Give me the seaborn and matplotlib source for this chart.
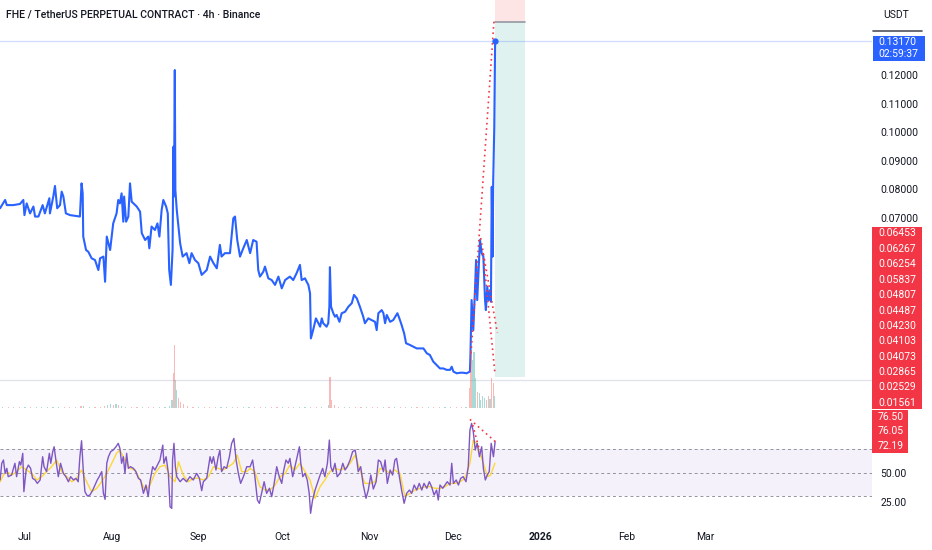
import matplotlib
matplotlib.use("Agg")
import matplotlib.pyplot as plt
from matplotlib.patches import Rectangle
import seaborn as sns
import pandas as pd

# ---------------- data ----------------
# x values are days since 2025-07-01
price_days = [-8.9, -7.1, -6.5, -4.2, -1.8, -0.6, -0.2, 0.6, 1.8, 3.0, 3.6, 4.8, 6.3, 7.1, 8.7, 8.9,
              10.1, 10.7, 11.5, 12.5, 13.1, 13.7, 14.6, 16.1, 19.6, 20.2, 20.6, 20.8, 21.8, 22.6, 23.8,
              25.0, 26.2, 26.8, 28.0, 28.6, 29.2, 30.4, 31.5, 32.7, 33.3, 33.9, 34.5, 35.1, 35.4, 36.1,
              36.9, 37.5, 38.1, 39.9, 41.1, 41.7, 42.9, 44.0, 44.4, 45.2, 46.4, 47.3, 48.0, 48.8, 49.4,
              50.4, 51.0, 51.5, 52.1, 52.7, 53.0, 53.2, 53.5, 53.7, 54.2, 55.4, 56.3, 57.7, 58.7, 59.5,
              60.7, 61.9, 63.1, 64.9, 66.1, 67.3, 68.5, 69.6, 70.2, 71.4, 73.2, 74.4, 75.0, 75.8, 76.8,
              77.7, 79.2, 80.4, 81.5, 82.7, 83.3, 83.9, 85.1, 85.7, 86.9, 88.1, 89.3, 90.5, 91.7, 92.9,
              94.6, 95.8, 97.0, 98.2, 98.8, 100.0, 100.6, 101.2, 101.8, 102.1, 102.9, 103.9, 104.8, 105.4,
              106.0, 106.5, 107.7, 108.3, 108.7, 108.9, 109.3, 110.1, 110.7, 111.3, 112.3, 113.1, 114.3,
              115.5, 116.7, 117.5, 118.5, 119.6, 120.8, 121.4, 122.6, 123.8, 125.0, 125.6, 126.2, 127.4,
              128.0, 128.6, 129.2, 130.4, 131.5, 133.0, 133.7, 134.5, 135.4, 136.1, 137.5, 138.7, 139.9,
              141.1, 142.3, 143.5, 144.6, 145.8, 147.0, 148.2, 149.4, 150.6, 151.8, 152.4, 153.0, 154.2,
              155.4, 156.5, 157.7, 158.9, 159.1, 159.5, 160.1, 160.7, 161.1, 161.5, 161.9, 162.5, 163.1,
              163.7, 164.3, 164.6, 165.1, 165.6, 166.1, 166.4, 166.7, 167.0, 167.2, 167.6, 167.9]
price_vals = [0.0734, 0.0763, 0.0745, 0.0745, 0.0749, 0.0763, 0.0710, 0.0751, 0.0716, 0.0740, 0.0705,
              0.0705, 0.0745, 0.0716, 0.0769, 0.0716, 0.0775, 0.0812, 0.0734, 0.0745, 0.0792, 0.0775,
              0.0716, 0.0710, 0.0705, 0.0821, 0.0786, 0.0635, 0.0588, 0.0582, 0.0559, 0.0553, 0.0518,
              0.0559, 0.0565, 0.0477, 0.0635, 0.0588, 0.0681, 0.0716, 0.0763, 0.0751, 0.0786, 0.0687,
              0.0775, 0.0687, 0.0705, 0.0821, 0.0757, 0.0740, 0.0722, 0.0647, 0.0623, 0.0635, 0.0594,
              0.0670, 0.0658, 0.0681, 0.0635, 0.0728, 0.0763, 0.0740, 0.0716, 0.0518, 0.0466, 0.0588,
              0.0949, 0.0775, 0.1217, 0.0798, 0.0728, 0.0612, 0.0565, 0.0577, 0.0542, 0.0577, 0.0553,
              0.0542, 0.0501, 0.0518, 0.0565, 0.0542, 0.0524, 0.0606, 0.0565, 0.0577, 0.0577, 0.0699,
              0.0705, 0.0623, 0.0565, 0.0588, 0.0623, 0.0577, 0.0623, 0.0617, 0.0518, 0.0495, 0.0512,
              0.0530, 0.0489, 0.0483, 0.0466, 0.0495, 0.0454, 0.0483, 0.0495, 0.0483, 0.0507, 0.0536,
              0.0483, 0.0489, 0.0477, 0.0466, 0.0437, 0.0279, 0.0308, 0.0349, 0.0332, 0.0320, 0.0349,
              0.0332, 0.0320, 0.0332, 0.0390, 0.0528, 0.0390, 0.0367, 0.0355, 0.0361, 0.0337, 0.0367,
              0.0372, 0.0390, 0.0402, 0.0431, 0.0419, 0.0390, 0.0355, 0.0332, 0.0349, 0.0343, 0.0337,
              0.0308, 0.0367, 0.0378, 0.0367, 0.0332, 0.0361, 0.0337, 0.0343, 0.0367, 0.0349, 0.0326,
              0.0297, 0.0262, 0.0256, 0.0250, 0.0244, 0.0244, 0.0244, 0.0227, 0.0221, 0.0198, 0.0186,
              0.0174, 0.0174, 0.0169, 0.0169, 0.0180, 0.0163, 0.0157, 0.0159, 0.0159, 0.0157, 0.0163,
              0.0227, 0.0413, 0.0308, 0.0448, 0.0553, 0.0413, 0.0495, 0.0623, 0.0577, 0.0565, 0.0413,
              0.0378, 0.0460, 0.0413, 0.0448, 0.0407, 0.0809, 0.0565, 0.0821, 0.1019, 0.1317]
current_price = 0.13170
countdown = "02:59:37"

rsi_days = [-8.9, -8.3, -7.7, -7.1, -6.5, -6.0, -4.8, -3.6, -3.0, -2.0, -1.5, -0.8, -0.4, 0.4, 1.2, 2.0,
            2.7, 3.6, 4.4, 5.4, 6.3, 6.8, 7.7, 8.7, 9.2, 9.9, 10.4, 11.1, 11.9, 12.7, 13.7, 14.6, 15.5,
            16.3, 17.3, 18.2, 19.0, 19.6, 20.2, 20.8, 21.4, 22.3, 23.2, 24.2, 25.0, 25.8, 26.5, 27.4,
            28.0, 28.6, 29.2, 29.8, 30.6, 31.5, 32.5, 33.3, 33.9, 34.5, 35.1, 35.7, 36.3, 36.9, 37.7,
            38.7, 39.6, 40.5, 41.3, 42.3, 43.2, 44.0, 44.6, 45.6, 46.4, 47.3, 48.2, 49.2, 49.6, 50.4,
            51.2, 51.8, 52.4, 52.7, 53.2, 53.7, 54.2, 55.4, 56.5, 57.7, 58.9, 60.1, 61.3, 62.3, 63.1,
            63.7, 64.9, 66.1, 66.7, 67.3, 68.2, 69.0, 69.6, 70.2, 71.1, 72.0, 73.0, 73.8, 74.6, 75.4,
            76.2, 77.0, 78.0, 79.2, 80.4, 81.3, 82.1, 83.0, 83.7, 84.5, 85.4, 86.3, 87.3, 88.1, 88.9,
            89.9, 90.8, 91.7, 92.3, 93.2, 94.0, 94.6, 95.6, 96.4, 97.3, 98.0, 98.5, 99.2, 100.0, 100.8,
            101.5, 102.0, 102.7, 103.6, 104.4, 105.4, 106.3, 107.1, 108.0, 108.7, 109.2, 109.9, 110.7,
            111.5, 112.5, 113.5, 114.3, 115.1, 116.1, 117.0, 117.9, 118.5, 119.0, 119.9, 120.8, 121.8,
            122.6, 123.5, 124.4, 125.4, 126.2, 127.0, 128.0, 128.6, 129.4, 130.4, 131.3, 132.1, 132.7,
            133.7, 134.5, 135.4, 136.3, 137.3, 138.1, 139.0, 139.9, 140.8, 141.7, 142.5, 143.5, 144.4,
            145.2, 146.1, 147.0, 147.6, 148.2, 149.2, 150.0, 150.8, 151.8, 152.4, 153.0, 154.0, 154.8,
            155.6, 156.5, 157.5, 158.3, 158.9, 159.5, 160.1, 160.8, 161.5, 162.3, 163.1, 163.7, 164.4,
            165.1, 165.8, 166.5, 167.3, 167.9]
rsi_vals = [43.8, 58.0, 60.8, 49.4, 53.7, 46.6, 48.0, 58.0, 46.6, 59.4, 56.5, 66.5, 33.8, 52.3, 56.5, 53.7,
            45.2, 43.8, 40.9, 43.8, 63.6, 55.1, 50.9, 66.5, 58.0, 67.9, 72.1, 59.4, 46.6, 58.0, 49.4, 46.6,
            42.3, 46.6, 43.8, 45.2, 42.3, 63.6, 77.2, 52.3, 33.8, 30.1, 31.0, 35.2, 39.5, 43.8, 46.6, 50.9,
            32.4, 27.3, 58.0, 63.6, 67.9, 69.3, 72.1, 75.0, 70.7, 58.0, 63.6, 49.4, 66.5, 53.7, 55.1, 53.7,
            50.9, 45.2, 43.8, 32.4, 39.5, 29.6, 42.3, 55.1, 52.3, 56.5, 60.8, 73.5, 58.0, 63.6, 49.4, 21.0,
            19.6, 60.8, 75.0, 55.1, 46.6, 42.3, 45.2, 42.3, 46.6, 43.8, 49.4, 45.2, 34.7, 42.3, 45.2, 63.6,
            58.0, 63.6, 52.3, 63.6, 69.3, 50.9, 55.1, 53.7, 63.6, 75.0, 79.2, 60.8, 49.4, 40.9, 46.6, 55.1,
            55.1, 60.8, 46.6, 26.7, 23.9, 32.4, 42.3, 32.4, 36.7, 29.6, 39.5, 55.1, 46.6, 40.9, 50.9, 60.8,
            58.0, 62.2, 46.6, 55.1, 65.0, 72.1, 58.0, 46.6, 49.4, 43.8, 32.4, 15.4, 26.7, 35.2, 40.9, 48.0,
            53.7, 46.6, 58.0, 77.8, 55.1, 50.9, 58.0, 46.6, 49.4, 58.0, 52.3, 55.1, 60.8, 67.9, 69.3, 60.8,
            50.9, 55.1, 39.5, 28.2, 35.2, 48.0, 36.1, 42.3, 60.8, 59.4, 50.9, 60.8, 40.9, 52.3, 48.0, 60.8,
            62.2, 46.6, 35.2, 23.9, 32.4, 35.2, 32.4, 39.5, 35.2, 40.9, 35.2, 40.9, 36.7, 42.3, 38.1, 31.0,
            35.2, 26.7, 39.5, 36.7, 39.5, 42.3, 39.5, 58.0, 40.9, 43.8, 39.5, 45.2, 46.6, 42.3, 55.1, 86.3,
            92.0, 84.9, 69.3, 75.0, 63.6, 72.1, 53.7, 43.8, 48.0, 50.9, 75.0, 63.6, 76.4]

rsi_ma_days = [-8.9, -7.7, -6.5, -4.8, -3.0, -1.2, 0.6, 2.4, 4.2, 6.0, 7.7, 9.5, 11.3, 13.1, 14.9, 16.7,
               18.5, 20.2, 22.0, 23.8, 25.6, 27.4, 29.2, 31.0, 32.7, 33.9, 35.7, 37.5, 39.3, 41.1, 42.9,
               44.6, 46.4, 48.2, 50.0, 51.8, 53.6, 54.8, 56.5, 58.3, 60.1, 61.9, 63.7, 65.5, 67.3, 69.0,
               70.8, 72.6, 74.4, 75.8, 77.4, 79.2, 80.4, 82.1, 83.9, 85.7, 87.5, 89.3, 91.1, 92.9, 94.6,
               96.4, 98.2, 100.0, 101.8, 103.6, 105.4, 107.1, 108.9, 110.7, 112.5, 114.3, 116.1, 117.9,
               119.6, 121.4, 123.2, 125.0, 126.8, 128.6, 130.4, 132.1, 133.9, 135.7, 137.5, 139.3, 141.1,
               142.9, 144.6, 146.4, 148.2, 150.0, 151.8, 153.6, 155.4, 157.1, 158.9, 160.1, 161.3, 162.5,
               163.7, 165.2, 166.3, 167.8]
rsi_ma_vals = [42.3, 48.0, 50.9, 48.0, 50.9, 55.1, 52.3, 49.4, 43.8, 46.6, 50.9, 55.1, 60.8, 50.9, 46.6,
               42.3, 45.2, 52.3, 42.3, 33.8, 36.7, 42.3, 49.4, 58.0, 66.5, 69.3, 60.8, 53.7, 52.3, 43.8,
               35.2, 39.5, 49.4, 55.1, 56.5, 46.6, 42.3, 59.4, 48.0, 42.3, 45.2, 45.2, 43.8, 46.6, 55.1,
               53.7, 52.3, 55.1, 58.0, 65.0, 50.9, 50.9, 53.7, 50.9, 38.1, 35.2, 35.2, 39.5, 46.6, 49.4,
               56.5, 52.3, 58.0, 50.9, 43.8, 28.2, 38.1, 43.8, 50.9, 53.7, 52.3, 53.7, 58.0, 65.0, 52.3,
               40.9, 40.9, 42.3, 53.7, 52.3, 49.4, 52.3, 49.4, 29.6, 32.4, 35.2, 36.7, 38.1, 38.1, 36.7,
               36.7, 38.1, 40.9, 40.9, 42.3, 45.2, 58.0, 77.8, 75.0, 66.5, 58.0, 46.6, 48.0, 58.0]

vol_days = [-8, -6, -4, -2, 0, 2, 4, 6, 8, 10, 12, 14, 16, 18, 20, 21, 23, 25, 27, 28.5, 29.5, 30.5, 31.5,
            32.5, 33.5, 34.5, 36, 38, 40, 42, 44, 46, 48, 50, 51.5, 52.5, 53.0, 53.3, 53.7, 54.2, 54.8,
            55.5, 56.5, 58, 60, 62, 64, 66, 68, 70, 72, 74, 76, 78, 80, 82, 84, 86, 88, 90, 92, 94, 96,
            98, 100, 102, 104, 106, 108.3, 108.9, 109.5, 110.5, 112, 114, 116, 118, 120, 122, 124, 126,
            128, 130, 132, 134, 136, 138, 140, 142, 144, 146, 148, 150, 152, 154, 156, 157.5, 158.8, 159.3,
            159.8, 160.4, 161.0, 161.6, 162.2, 162.8, 163.5, 164.2, 164.9, 165.5, 166.1, 166.7, 167.2, 167.7]
vol_vals = [0.8, 0.6, 0.7, 0.9, 1.0, 0.6, 0.8, 0.7, 1.2, 1.5, 0.9, 0.7, 0.6, 0.8, 2.0, 2.5, 1.2, 0.9, 1.1,
            2.2, 3.0, 4.0, 3.5, 4.5, 3.0, 2.5, 1.5, 1.0, 0.9, 1.2, 0.8, 0.9, 1.0, 1.5, 2.5, 8.0, 35, 63, 28,
            18, 10, 6, 4, 2.5, 1.5, 1.2, 0.8, 1.0, 0.9, 1.5, 1.0, 1.5, 1.2, 0.8, 0.9, 0.7, 1.0, 0.8, 0.7,
            0.6, 0.8, 0.7, 0.9, 1.2, 0.8, 1.5, 1.2, 0.9, 3.0, 31, 8, 3, 1.2, 0.9, 1.1, 0.8, 0.9, 0.7, 0.8,
            1.0, 0.9, 0.7, 0.8, 1.0, 1.2, 0.8, 0.6, 0.7, 0.9, 1.0, 0.8, 0.7, 1.2, 0.9, 1.0, 1.5, 20, 58,
            48, 56, 30, 16, 15, 8, 12, 10, 8, 12, 9, 30, 25, 12]
vol_up = "udududuuuuudduduuddduududuuddudduuuudduuddddduddduuuduuddudduduuudduudddduudduddu" \
         "duduuddudduuddudduuuduuuuddudduuu"

price_ticks = [0.07, 0.08, 0.09, 0.10, 0.11, 0.12]
rsi_ticks = [25, 50]
rsi_levels = [30, 50, 70]
tool_labels = [0.06453, 0.06267, 0.06254, 0.05837, 0.04807, 0.04487, 0.04230, 0.04103, 0.04073,
               0.02865, 0.02529, 0.01561]
rsi_labels = [76.50, 76.05, 72.19]
month_days = [0, 31, 62, 92, 123, 153, 184, 215, 243]
month_names = ["Jul", "Aug", "Sep", "Oct", "Nov", "Dec", "2026", "Feb", "Mar"]

# short position tool and pattern lines (data units)
pos_days = [167.9, 178.6]
pos_stop, pos_entry, pos_target = 0.1470, 0.1385, 0.0144
pattern_price = [([159.3, 167.5], [0.0227, 0.1389]),
                 ([162.75, 168.7], [0.0630, 0.0298]),
                 ([163.6, 167.9], [0.0578, 0.0151])]
pattern_rsi = [([158.9, 168.0], [95.4, 76.4]),
               ([159.9, 162.3], [90.6, 69.3])]
target_line = 0.01336

# ---------------- style ----------------
sns.set_theme(style="white")
plt.rcParams['font.family'] = ['Roboto', 'DejaVu Sans']
TXT = '#131722'
BLUE = '#2962ff'
RED = '#f23645'

W, H = 932, 550
fig = plt.figure(figsize=(W / 100, H / 100), dpi=100)
fig.patch.set_facecolor('white')

def rect(x0, y0, x1, y1):
    return [x0 / W, 1 - y1 / H, (x1 - x0) / W, (y1 - y0) / H]

ax_p = fig.add_axes(rect(0, 0, 872, 408))
ax_v = fig.add_axes(rect(0, 0, 872, 408), sharex=ax_p)
ax_r = fig.add_axes(rect(0, 410, 872, 520), sharex=ax_p)

xmin, xmax = -8.93, 302.5
ax_p.set_xlim(xmin, xmax)
ax_p.set_ylim(0.00357, 0.1462)

# position tool
ax_p.fill_between(pos_days, pos_entry, pos_stop, color=RED, alpha=0.13, lw=0, zorder=0)
ax_p.fill_between(pos_days, pos_target, pos_entry, color='#089981', alpha=0.12, lw=0, zorder=0)
ax_p.plot(pos_days, [pos_entry, pos_entry], color='#9598a1', lw=1.2, zorder=1)

ax_p.axhline(current_price, color=BLUE, alpha=0.22, lw=0.9, zorder=1)
ax_p.axhline(target_line, color='#e0e3eb', lw=0.9, zorder=1)

df_p = pd.DataFrame({'day': price_days, 'price': price_vals})
sns.lineplot(data=df_p, x='day', y='price', ax=ax_p, color=BLUE, lw=1.5,
             estimator=None, sort=False, zorder=4)
ax_p.plot([price_days[-1]], [price_vals[-1]], 'o', color=BLUE, ms=3.5, zorder=5)

for xs, ys in pattern_price:
    ax_p.plot(xs, ys, color=RED, lw=1.2, ls=(0, (1, 2.2)), zorder=6)

ax_p.yaxis.tick_right()
ax_p.set_yticks(price_ticks)
ax_p.set_yticklabels([f"{v:.5f}" for v in price_ticks])
ax_p.tick_params(axis='y', length=0, pad=6, labelsize=7.5, labelcolor=TXT)
ax_p.tick_params(axis='x', length=0, labelbottom=False)
ax_p.set_xlabel('')
ax_p.set_ylabel('')
for s in ax_p.spines.values():
    s.set_visible(False)

# volume overlay
ax_v.set_facecolor('none')
ax_v.set_ylim(0, 408)
cols = ['#26a69a' if c == 'u' else '#ef5350' for c in vol_up[:len(vol_vals)]]
ax_v.bar(vol_days, vol_vals, width=0.45, color=cols, alpha=0.4, lw=0, zorder=2)
ax_v.axis('off')

# RSI pane
ax_r.set_ylim(9.7, 103.4)
ax_r.axhspan(30, 70, color='#7e57c2', alpha=0.08, lw=0)
for lv in rsi_levels:
    ax_r.axhline(lv, color='#787b86', lw=0.7, ls=(0, (3, 3)), alpha=0.8)
df_r = pd.DataFrame({'day': rsi_days, 'rsi': rsi_vals})
df_m = pd.DataFrame({'day': rsi_ma_days, 'ma': rsi_ma_vals})
sns.lineplot(data=df_m, x='day', y='ma', ax=ax_r, color='#fdd835', lw=1.0,
             estimator=None, sort=False, zorder=3)
sns.lineplot(data=df_r, x='day', y='rsi', ax=ax_r, color='#7e57c2', lw=1.0,
             estimator=None, sort=False, zorder=4)
for xs, ys in pattern_rsi:
    ax_r.plot(xs, ys, color=RED, lw=1.2, ls=(0, (1, 2.2)), zorder=6)
ax_r.yaxis.tick_right()
ax_r.set_yticks(rsi_ticks)
ax_r.set_yticklabels([f"{v:.2f}" for v in rsi_ticks])
ax_r.tick_params(axis='y', length=0, pad=6, labelsize=7.5, labelcolor=TXT)
ax_r.set_xticks(month_days)
ax_r.set_xticklabels(month_names)
ax_r.tick_params(axis='x', length=0, pad=9, labelsize=7.5, labelcolor=TXT)
for lbl in ax_r.get_xticklabels():
    if lbl.get_text() == '2026':
        lbl.set_fontweight('bold')
ax_r.set_xlabel('')
ax_r.set_ylabel('')
ax_r.set_facecolor('none')
for s in ax_r.spines.values():
    s.set_visible(False)
ax_r.set_xlim(xmin, xmax)

# ---------------- right scale annotations ----------------
def frect(x0, y0, x1, y1, color):
    fig.add_artist(Rectangle((x0 / W, 1 - y1 / H), (x1 - x0) / W, (y1 - y0) / H,
                             transform=fig.transFigure, color=color, lw=0, zorder=10))

def ftext(x, y, s, color=TXT, **kw):
    fig.text(x / W, 1 - y / H, s, color=color, ha='left', va='center', fontsize=7.5, zorder=11, **kw)

frect(873, 36, 925, 61, BLUE)
ftext(878, 42, f"{current_price:.5f}", color='white')
ftext(878, 54, countdown, color='white')

frect(872, 226.5, 922, 408.5, RED)
for i, v in enumerate(tool_labels):
    ftext(878, 233.5 + i * 15.4, f"{v:.5f}", color='white')
frect(872, 410, 908, 453, RED)
for i, v in enumerate(rsi_labels):
    ftext(878, 416.5 + i * 14.6, f"{v:.2f}", color='white')

ftext(883, 15, "USDT")
fig.add_artist(plt.Line2D([873 / W, 922 / W], [1 - 31 / H, 1 - 31 / H], transform=fig.transFigure,
                          color='#50535e', lw=1.2, zorder=10))

fig.text(6 / W, 1 - 15 / H, "FHE / TetherUS PERPETUAL CONTRACT · 4h · Binance", color=TXT,
         ha='left', va='center', fontsize=7.6, fontfamily=['Roboto', 'DejaVu Sans'],
         fontweight='medium')

fig.savefig("out.png", dpi=100, facecolor='white')
